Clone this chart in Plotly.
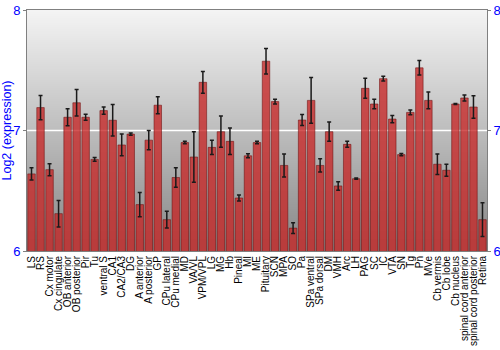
import plotly.graph_objects as go

categories = ["LS", "RS", "Cx motor", "Cx cingulate", "OB anterior", "OB posterior", "Pir", "Tu",
              "ventral S", "CA1", "CA2/CA3", "DG", "A anterior", "A posterior", "GP", "CPu lateral",
              "CPu medial", "MD", "VA/VL", "VPM/VPL", "LG", "MG", "Hb", "Pineal", "MI", "ME",
              "Pituitary", "SCN", "MPA", "SO", "Pa", "SPa ventral", "SPa dorsal", "DM", "VMH", "Arc",
              "LH", "PAG", "SC", "IC", "VTA", "SN", "Tg", "Pn", "MVe", "Cb vermis", "Cb lobe",
              "Cb nucleus", "spinal cord anterior", "spinal cord posterior", "Retina"]

values = [6.64, 7.19, 6.675, 6.31, 7.11, 7.23, 7.11, 6.76, 7.165, 7.085, 6.88, 6.97, 6.385,
          6.92, 7.21, 6.26, 6.61, 6.90, 6.78, 7.40, 6.86, 6.99, 6.91, 6.44, 6.79, 6.90,
          7.575, 7.24, 6.71, 6.19, 7.087, 7.25, 6.71, 6.99, 6.54, 6.885, 6.60, 7.35, 7.22,
          7.43, 7.095, 6.80, 7.15, 7.52, 7.25, 6.72, 6.67, 7.22, 7.27, 7.195, 6.26]

errors = [0.05, 0.10, 0.05, 0.11, 0.07, 0.11, 0.025, 0.015, 0.03, 0.13, 0.09, 0.01, 0.10,
          0.08, 0.07, 0.07, 0.08, 0.01, 0.21, 0.09, 0.06, 0.13, 0.11, 0.025, 0.017, 0.01,
          0.106, 0.02, 0.095, 0.045, 0.045, 0.19, 0.055, 0.08, 0.035, 0.025, 0.005, 0.083, 0.04,
          0.02, 0.03, 0.01, 0.02, 0.06, 0.07, 0.085, 0.05, 0.005, 0.025, 0.093, 0.14]

y_ticks = [6, 7, 8]
y_range = [6, 8]
grid_value = 7

fig = go.Figure()
# background gradient (main subplot, drawn underneath)
fig.add_trace(go.Heatmap(
    x=[0, 1], y=y_range, z=[[0, 0], [1, 1]], zsmooth="best",
    colorscale=[[0, "rgb(134,134,134)"], [1, "rgb(244,244,244)"]],
    zmin=0, zmax=1, showscale=False, hoverinfo="skip",
))
fig.add_trace(go.Scatter(x=[0, 1], y=[grid_value, grid_value], mode="lines",
                         line=dict(color="white", width=1.5), hoverinfo="skip", showlegend=False))
# invisible trace to activate the right-hand axis
fig.add_trace(go.Scatter(x=[0, 1], y=y_range, xaxis="x", yaxis="y2", mode="markers",
                         marker=dict(opacity=0), hoverinfo="skip", showlegend=False))
# data bars on overlay subplot
fig.add_trace(go.Bar(
    x=categories, y=values, xaxis="x2", yaxis="y",
    base=0,
    marker=dict(color="rgba(198,38,38,0.78)", line=dict(color="rgba(110,15,15,0.55)", width=1)),
    error_y=dict(type="data", array=errors, color="#1a1a1a", thickness=1.5, width=2),
    hoverinfo="x+y",
))

axis_font = dict(family="Liberation Sans, Arial, sans-serif", size=13, color="#0000ff")
fig.update_layout(
    width=500, height=350,
    margin=dict(l=27, r=13, t=10, b=99),
    paper_bgcolor="white", plot_bgcolor="white",
    showlegend=False,
    bargap=0.17,
    xaxis=dict(range=[0, 1], visible=False, showgrid=False, zeroline=False, automargin=False),
    xaxis2=dict(overlaying="x", side="bottom", anchor="y",
                range=[-0.5, len(categories) - 0.5],
                tickangle=-90, tickmode="array", tickvals=categories, ticktext=categories,
                tickfont=dict(family="Liberation Sans, Arial, sans-serif", size=10, color="black"),
                showline=True, mirror=True, linecolor="#808080", linewidth=1, ticks="",
                showgrid=False, automargin=False),
    yaxis=dict(range=y_range, tickvals=y_ticks, tickfont=axis_font, ticks="outside", ticklen=3,
               tickcolor="#808080", showline=True, linecolor="#808080", linewidth=1,
               showgrid=False, zeroline=False, automargin=False,
               title=dict(text="Log2 (expression)", standoff=2,
                          font=dict(family="Liberation Sans, Arial, sans-serif", size=12.5, color="#0000ff"))),
    yaxis2=dict(range=y_range, tickvals=y_ticks, tickfont=axis_font, ticks="outside", ticklen=3,
                tickcolor="#808080", showline=True, linecolor="#808080", linewidth=1,
                overlaying="y", side="right", showgrid=False, zeroline=False, automargin=False),
)

fig.write_html("out.html")
